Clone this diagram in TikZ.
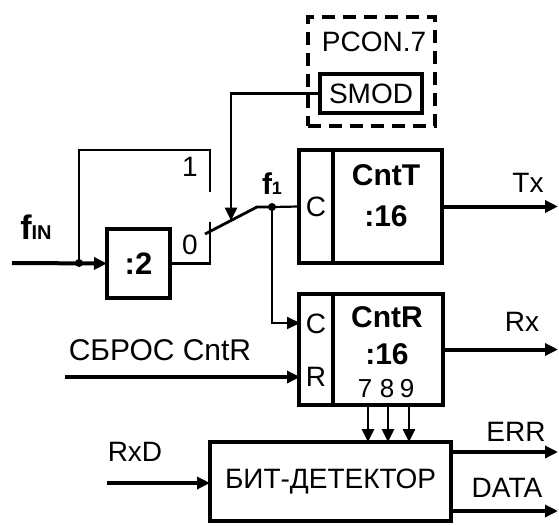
\documentclass[tikz,border=0pt]{standalone}
\usepackage{fontspec}
\setmainfont{Liberation Sans}
\usetikzlibrary{arrows.meta}
\begin{document}
\begin{tikzpicture}[x=1pt,y=-1pt,
  box/.style={draw, line width=4.5pt, inner sep=0pt, outer sep=0pt},
  sig/.style={line width=4pt},
  wire/.style={line width=2.8pt},
  thinw/.style={line width=2.2pt},
  arr/.style={-{Triangle[length=13pt,width=12pt]}},
  lbl/.style={inner sep=0pt, font=\fontsize{28}{30}\selectfont},
  blbl/.style={inner sep=0pt, font=\fontsize{30}{32}\selectfont\bfseries},
  digit/.style={inner sep=0pt, font=\fontsize{26}{28}\selectfont},
  dotn/.style={circle, fill, inner sep=0pt, minimum size=8pt}]
\useasboundingbox (0,0) rectangle (559,525);

% boxes
\node[box, minimum width=63pt, minimum height=69pt, font=\fontsize{31}{32}\selectfont\bfseries] (div) at (138.5,263.5) {:2};
\node[box, minimum width=34pt, minimum height=113pt] (cntTc) at (316,206.5) {};
\node[box, minimum width=109pt, minimum height=113pt] (cntTm) at (387.5,206.5) {};
\node[box, minimum width=34pt, minimum height=111pt] (cntRc) at (316,349.5) {};
\node[box, minimum width=110pt, minimum height=111pt] (cntRm) at (388,349.5) {};
\node[box, minimum width=241pt, minimum height=79pt] (bit) at (330.5,481.5) {};
\node[box, minimum width=102pt, minimum height=39pt] (smod) at (371,93.5) {};
\node[draw, line width=3.5pt, dash pattern=on 13pt off 8pt, inner sep=0pt,
      minimum width=127pt, minimum height=109pt] (pcon) at (371.5,71.5) {};

% coordinates
\coordinate (fin) at (12,263);
\coordinate (split) at (79,263);
\coordinate (fbTop) at (79,150);
\coordinate (c1) at (210,192);
\coordinate (c0) at (210,222);
\coordinate (bladeS) at (205,234);
\coordinate (bladeE) at (257,207);
\coordinate (f1) at (272,207);
\coordinate (ctrl) at (231,220.5);
\coordinate (cIn) at (300,323);
\coordinate (txEnd) at (558,206.5);
\coordinate (rxEnd) at (558,349.5);
\coordinate (rst) at (65,377);
\coordinate (rIn) at (300,377);
\coordinate (q7a) at (368,405);
\coordinate (q7b) at (368,442);
\coordinate (q8a) at (388,405);
\coordinate (q8b) at (388,442);
\coordinate (q9a) at (409,405);
\coordinate (q9b) at (409,442);
\coordinate (rxd) at (107,483);
\coordinate (dIn) at (210,483);
\coordinate (errS) at (451,452);
\coordinate (errE) at (558,452);
\coordinate (dataS) at (451,511);
\coordinate (dataE) at (558,511);

% connectors
\draw[sig, arr] (fin) -- (div.west);
\draw[wire] (split) -- (fbTop) -| (c1);
\draw[wire] (div.east) -| (c0);
\draw[wire] (bladeS) -- (bladeE) -- (f1);
\draw[thinw] (f1) -- (cntTc.west);
\draw[wire, arr] (smod.west) -| (ctrl);
\draw[thinw, arr] (f1) |- (cIn);
\draw[sig, arr] (cntTm.east) -- (txEnd);
\draw[sig, arr] (cntRm.east) -- (rxEnd);
\draw[sig, arr] (rst) -- (rIn);
\draw[wire, arr] (q7a) -- (q7b);
\draw[wire, arr] (q8a) -- (q8b);
\draw[wire, arr] (q9a) -- (q9b);
\draw[sig, arr] (rxd) -- (dIn);
\draw[sig, arr] (errS) -- (errE);
\draw[sig, arr] (dataS) -- (dataE);
\node[dotn] (splitdot) at (split) {};
\node[dotn] (f1dot) at (f1) {};

% labels
\node[inner sep=0pt, anchor=base] (finl) at (36,239)
  {\fontsize{34}{34}\selectfont\bfseries f\fontsize{20}{20}\selectfont IN};
\node[inner sep=0pt, anchor=base] (f1l) at (272,194)
  {\fontsize{30}{30}\selectfont\bfseries f\fontsize{18}{18}\selectfont 1};
\node[lbl] (l1) at (190,167) {1};
\node[lbl] (l0) at (190,245) {0};
\node[lbl] (pconl) at (374,42) {PCON.7};
\node[lbl] at (smod.center) {SMOD};
\node[lbl] at (cntTc.center) {C};
\node[blbl] (cntTl) at (386,175) {CntT};
\node[blbl] (cntT16) at (386,216) {:16};
\node[lbl] (txl) at (528,183) {Tx};
\node[lbl] (cl2) at (316,324) {C};
\node[lbl] (rl) at (316,377) {R};
\node[blbl] (cntRl) at (387,317) {CntR};
\node[blbl] (cntR16) at (387,354) {:16};
\node[digit] (n7) at (365,389) {7};
\node[digit] (n8) at (387,389) {8};
\node[digit] (n9) at (407,389) {9};
\node[lbl] (rxl) at (522,322) {Rx};
\node[inner sep=0pt, font=\fontsize{30}{32}\selectfont] (rstl) at (160,350) {СБРОС CntR};
\node[lbl] (rxdl) at (135,452) {RxD};
\node[lbl] at (bit.center) {БИТ-ДЕТЕКТОР};
\node[lbl] (errl) at (516,432) {ERR};
\node[lbl] (datal) at (507,488) {DATA};
\end{tikzpicture}
\end{document}
